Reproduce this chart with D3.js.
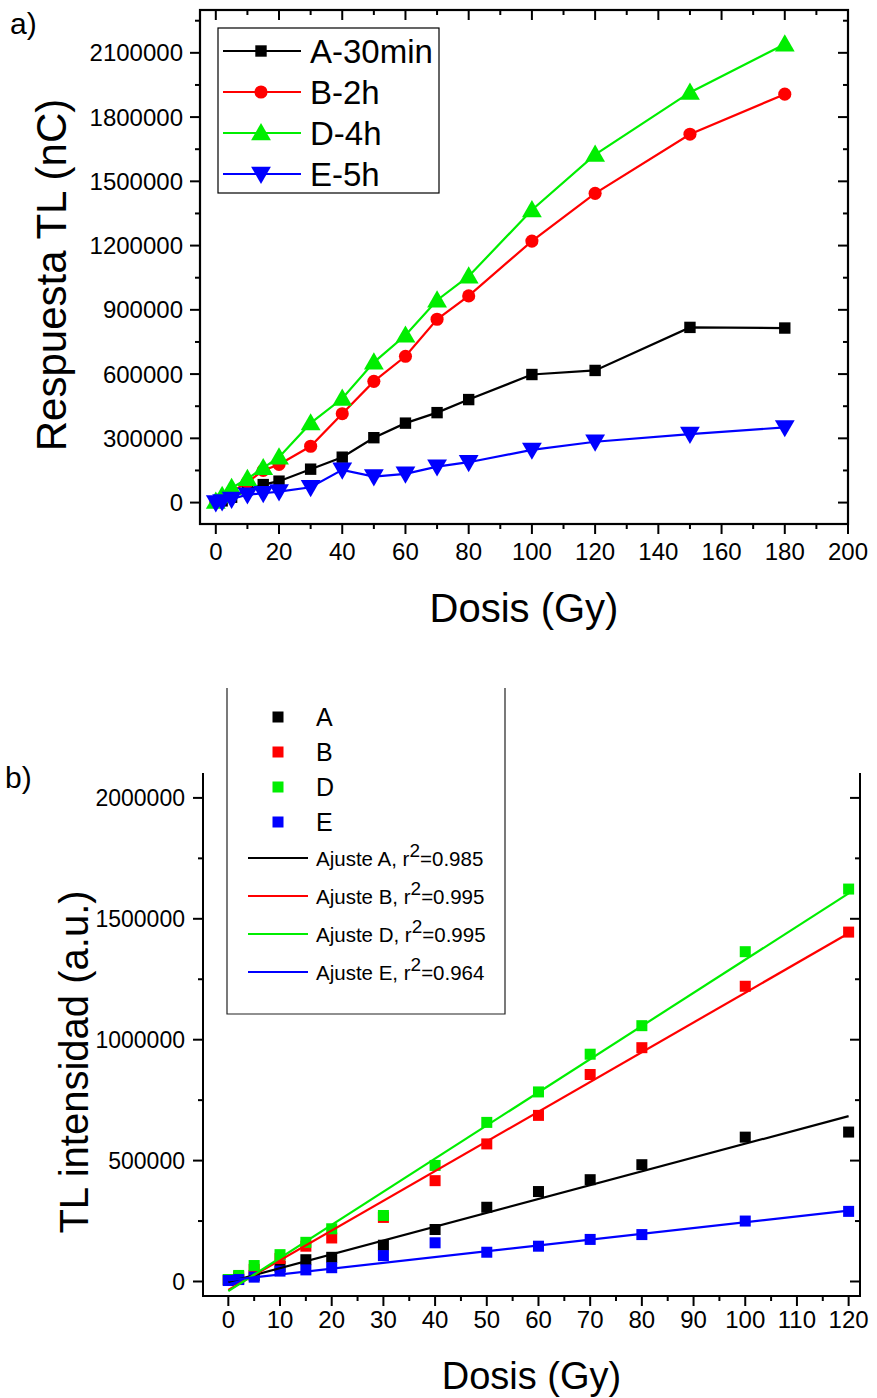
<!DOCTYPE html>
<html>
<head>
<meta charset="utf-8">
<script src="https://cdn.jsdelivr.net/npm/d3@7"></script>
<style>
  body { margin: 0; background: #fff; }
  svg { display: block; }
  text { font-family: "Liberation Sans", Arial, sans-serif; fill: #000; }
</style>
</head>
<body>
<svg id="chart" width="877" height="1398"></svg>
<script>
// ---------- panel a) : TL response vs dose, all annealing times ----------
const dosesA = [0, 2, 5, 10, 15, 20, 30, 40, 50, 60, 70, 80, 100, 120, 150, 180];
const respA30min = [2000, 8000, 25000, 60000, 84000, 100000, 156000, 212000, 303000, 371000, 420000, 481000, 598000, 617000, 818000, 815000];
const respB2h    = [3000, 20000, 50000, 95000, 150000, 178000, 263000, 415000, 566000, 683000, 856000, 965000, 1221000, 1444000, 1720000, 1907000];
const respD4h    = [5000, 32000, 69000, 111000, 162000, 212000, 371000, 486000, 655000, 781000, 945000, 1057000, 1366000, 1625000, 1915000, 2140000];
const respE5h    = [0, 5000, 17000, 37000, 43500, 51400, 71600, 153000, 121600, 134200, 168000, 188500, 246000, 284000, 320000, 351000];
const namesA = ["A-30min", "B-2h", "D-4h", "E-5h"];
const xTicksA = [0, 20, 40, 60, 80, 100, 120, 140, 160, 180, 200];
const yTicksA = [0, 300000, 600000, 900000, 1200000, 1500000, 1800000, 2100000];

// ---------- panel b) : linear region with least-squares fits ----------
const dosesB = [0, 2, 5, 10, 15, 20, 30, 40, 50, 60, 70, 80, 100, 120];
const intA = [7000, 10000, 25000, 62000, 90000, 100000, 150000, 215000, 307000, 372000, 421000, 483000, 597000, 618000];
const intB = [5000, 20000, 50000, 95000, 146000, 180000, 265000, 417000, 569000, 687000, 856000, 967000, 1221000, 1445000];
const intD = [8000, 25000, 66000, 111000, 162000, 218000, 273000, 480000, 658000, 784000, 940000, 1058000, 1364000, 1623000];
const intE = [4000, 8000, 18000, 43000, 48000, 57000, 107000, 160000, 121000, 146000, 174000, 194000, 250000, 290000];
const namesB = ["A", "B", "D", "E"];
// fitted lines, evaluated at the ends of the fitted range (0 and 120 Gy)
const fitDoses = [0, 120];
const fitA = [-2000, 684000];
const fitB = [-35000, 1440000];
const fitD = [-40000, 1605000];
const fitE = [5000, 293000];
const fitR2 = ["0.985", "0.995", "0.995", "0.964"];
const xTicksB = [0, 10, 20, 30, 40, 50, 60, 70, 80, 90, 100, 110, 120];
const yTicksB = [0, 500000, 1000000, 1500000, 2000000];

const colors = ["#000000", "#ff0000", "#00ee00", "#0000ff"];

const svg = d3.select("#chart");

// ================= panel a) =================
const pa = { left: 200, right: 848, top: 10, bottom: 524 };
const xa = d3.scaleLinear().domain([-5, 200]).range([pa.left, pa.right]);
const ya = d3.scaleLinear().domain([-100000, 2300000]).range([pa.bottom, pa.top]);

const ga = svg.append("g");

// minor + major ticks
const xMinorA = d3.range(0, 201, 10);
const yMinorA = d3.range(0, 2300001, 150000);

function drawTicks(g, xs, ys, xScale, yScale, box, xMajor, yMajor) {
  const major = 10, minor = 5;
  xs.forEach(v => {
    const len = xMajor.includes(v) ? major : minor;
    const px = xScale(v);
    g.append("line").attr("x1", px).attr("x2", px).attr("y1", box.bottom).attr("y2", box.bottom + len)
      .attr("stroke", "#000").attr("stroke-width", 2);
  });
  ys.forEach(v => {
    const len = yMajor.includes(v) ? major : minor;
    const py = yScale(v);
    g.append("line").attr("x1", box.left).attr("x2", box.left - len).attr("y1", py).attr("y2", py)
      .attr("stroke", "#000").attr("stroke-width", 2);
    g.append("line").attr("x1", box.right).attr("x2", box.right - len).attr("y1", py).attr("y2", py)
      .attr("stroke", "#000").attr("stroke-width", 2);
  });
}
drawTicks(ga, xMinorA, yMinorA, xa, ya, pa, xTicksA, yTicksA);
// top mirror ticks (inward)
xMinorA.forEach(v => {
  const len = xTicksA.includes(v) ? 10 : 5;
  ga.append("line").attr("x1", xa(v)).attr("x2", xa(v)).attr("y1", pa.top).attr("y2", pa.top + len)
    .attr("stroke", "#000").attr("stroke-width", 2);
});

// frame
ga.append("rect").attr("x", pa.left).attr("y", pa.top)
  .attr("width", pa.right - pa.left).attr("height", pa.bottom - pa.top)
  .attr("fill", "none").attr("stroke", "#000").attr("stroke-width", 2.2);

// tick labels
ga.selectAll(".xla").data(xTicksA).join("text")
  .attr("x", d => xa(d)).attr("y", 560).attr("text-anchor", "middle")
  .attr("font-size", 24).text(d => d);
ga.selectAll(".yla").data(yTicksA).join("text")
  .attr("x", 183).attr("y", d => ya(d) + 8.5).attr("text-anchor", "end")
  .attr("font-size", 24).text(d => d);

// axis titles
ga.append("text").attr("x", (pa.left + pa.right) / 2).attr("y", 622).attr("text-anchor", "middle")
  .attr("font-size", 40).text("Dosis (Gy)");
ga.append("text").attr("transform", `translate(66,${(pa.top + pa.bottom) / 2 + 8}) rotate(-90)`)
  .attr("text-anchor", "middle").attr("font-size", 42).text("Respuesta TL (nC)");
ga.append("text").attr("x", 10).attr("y", 34).attr("font-size", 30).text("a)");

// series
const seriesA = [respA30min, respB2h, respD4h, respE5h];
const symA = [d3.symbolSquare, d3.symbolCircle, d3.symbolTriangle, d3.symbolTriangle];
const symSize = [130, 135, 170, 170];
const line = (xs, yS) => d3.line().x((d, i) => xs(dosesA[i])).y(d => yS(d));

seriesA.forEach((vals, k) => {
  ga.append("path").attr("d", line(xa, ya)(vals))
    .attr("fill", "none").attr("stroke", colors[k]).attr("stroke-width", 2.2);
  ga.selectAll(null).data(vals).join("path")
    .attr("transform", (d, i) => `translate(${xa(dosesA[i])},${ya(d) + (k >= 2 ? (k === 2 ? 1.5 : -1.5) : 0)}) rotate(${k === 3 ? 180 : 0})`)
    .attr("d", d3.symbol().type(symA[k]).size(symSize[k]))
    .attr("fill", colors[k]);
});

// legend a)
const la = ga.append("g");
la.append("rect").attr("x", 218).attr("y", 28).attr("width", 221).attr("height", 165)
  .attr("fill", "#fff").attr("stroke", "#000").attr("stroke-width", 1.2);
namesA.forEach((n, k) => {
  const y = 51 + k * 41;
  la.append("line").attr("x1", 223).attr("x2", 301).attr("y1", y).attr("y2", y)
    .attr("stroke", colors[k]).attr("stroke-width", 2.2);
  la.append("path").attr("transform", `translate(261,${y + (k === 2 ? 1.5 : k === 3 ? -1.5 : 0)}) rotate(${k === 3 ? 180 : 0})`)
    .attr("d", d3.symbol().type(symA[k]).size(symSize[k])).attr("fill", colors[k]);
  la.append("text").attr("x", 310).attr("y", y + 12).attr("font-size", 33).text(n);
});

// ================= panel b) =================
const pb = { left: 203, right: 860, top: 773, bottom: 1296 };
const xb = d3.scaleLinear().domain([-4.9, 122.2]).range([pb.left, pb.right]);
const yb = d3.scaleLinear().domain([-60000, 2103000]).range([pb.bottom, pb.top]);
const gb = svg.append("g");

const xMinorB = d3.range(0, 121, 5);
const yMinorB = d3.range(0, 2000001, 250000);
drawTicks(gb, xMinorB, yMinorB, xb, yb, pb, xTicksB, yTicksB);

// frame: left, bottom, right (open top)
gb.append("path")
  .attr("d", `M${pb.left},${pb.top}V${pb.bottom}H${pb.right}V${pb.top}`)
  .attr("fill", "none").attr("stroke", "#000").attr("stroke-width", 2);

gb.selectAll(".xlb").data(xTicksB).join("text")
  .attr("x", d => xb(d)).attr("y", 1328).attr("text-anchor", "middle")
  .attr("font-size", 24).text(d => d);
gb.selectAll(".ylb").data(yTicksB).join("text")
  .attr("x", 185).attr("y", d => yb(d) + 8.5).attr("text-anchor", "end")
  .attr("font-size", 23).text(d => d);

gb.append("text").attr("x", (pb.left + pb.right) / 2).attr("y", 1389).attr("text-anchor", "middle")
  .attr("font-size", 38).text("Dosis (Gy)");
gb.append("text").attr("transform", `translate(88,1062) rotate(-90)`)
  .attr("text-anchor", "middle").attr("font-size", 40).text("TL intensidad (a.u.)");
gb.append("text").attr("x", 5).attr("y", 788).attr("font-size", 30).text("b)");

// legend b) box (drawn first, open at the top)
gb.append("path").attr("d", "M227,688V1014H505V688")
  .attr("fill", "none").attr("stroke", "#222").attr("stroke-width", 1.2);

// scatter points
const seriesB = [intA, intB, intD, intE];
seriesB.forEach((vals, k) => {
  gb.selectAll(null).data(vals).join("rect")
    .attr("x", (d, i) => xb(dosesB[i]) - 5.5).attr("y", d => yb(d) - 5.5)
    .attr("width", 11).attr("height", 11).attr("fill", colors[k]);
});
// fitted lines
const fits = [fitA, fitB, fitD, fitE];
fits.forEach((vals, k) => {
  gb.append("path")
    .attr("d", d3.line().x((d, i) => xb(fitDoses[i])).y(d => yb(d))(vals))
    .attr("fill", "none").attr("stroke", colors[k]).attr("stroke-width", 2.2);
});

// legend b) entries
namesB.forEach((n, k) => {
  const y = 717 + k * 35;
  gb.append("rect").attr("x", 272.5).attr("y", y - 5.5).attr("width", 11).attr("height", 11).attr("fill", colors[k]);
  gb.append("text").attr("x", 316).attr("y", y + 9).attr("font-size", 25).text(n);
});
namesB.forEach((n, k) => {
  const y = 858 + k * 38;
  gb.append("line").attr("x1", 248).attr("x2", 308).attr("y1", y).attr("y2", y)
    .attr("stroke", colors[k]).attr("stroke-width", 2.2);
  const t = gb.append("text").attr("x", 316).attr("y", y + 8).attr("font-size", 20.5);
  t.append("tspan").text(`Ajuste ${n}, r`);
  t.append("tspan").attr("dy", -9).attr("font-size", 19).text("2");
  t.append("tspan").attr("dy", 9).text(`=${fitR2[k]}`);
});
</script>
</body>
</html>
